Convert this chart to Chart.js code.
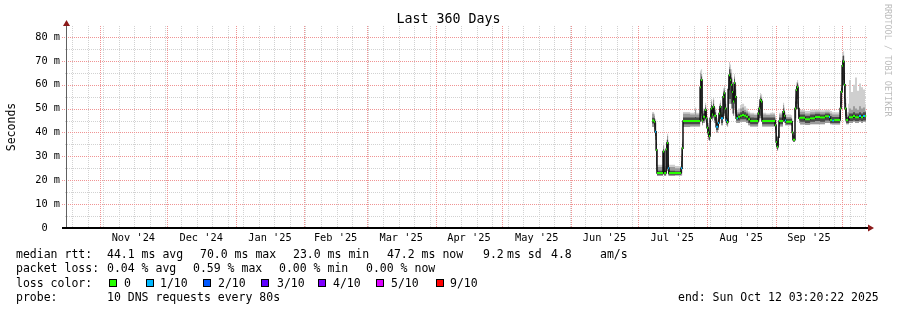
<!DOCTYPE html>
<html><head><meta charset="utf-8">
<script src="https://cdn.jsdelivr.net/npm/chart.js@4.4.1/dist/chart.umd.min.js"></script>
<style>
html,body{margin:0;padding:0;background:#fff;}
#wrap{position:relative;width:897px;height:310px;overflow:hidden;background:#fff;}
#c{position:absolute;left:0;top:0;}
.t{position:absolute;font-family:'DejaVu Sans Mono',monospace;font-size:11.5px;line-height:14px;color:#000;white-space:pre;}
.box{position:absolute;top:279px;width:6px;height:6px;border:1px solid #000;}
</style></head><body>
<div id="wrap">
<canvas id="c" width="897" height="310"></canvas>
<div class="t" style="left:0;width:897px;text-align:center;top:11px;font-size:13.3px;line-height:16px;">Last 360 Days</div>
<div class="t" style="left:882px;top:4px;writing-mode:vertical-rl;font-size:8.5px;line-height:11px;color:#bdbdbd;">RRDTOOL / TOBI OETIKER</div>

<div class="t" style="left:16px;top:247px;">median rtt:</div>
<div class="t" style="left:107px;top:247px;">44.1 ms avg</div>
<div class="t" style="left:200px;top:247px;">70.0 ms max</div>
<div class="t" style="left:293px;top:247px;">23.0 ms min</div>
<div class="t" style="left:387px;top:247px;">47.2 ms now</div>
<div class="t" style="left:483px;top:247px;">9.2</div>
<div class="t" style="left:507px;top:247px;">ms sd</div>
<div class="t" style="left:551px;top:247px;">4.8</div>
<div class="t" style="left:600px;top:247px;">am/s</div>

<div class="t" style="left:16px;top:261px;">packet loss:</div>
<div class="t" style="left:107px;top:261px;">0.04 % avg</div>
<div class="t" style="left:193px;top:261px;">0.59 % max</div>
<div class="t" style="left:279px;top:261px;">0.00 % min</div>
<div class="t" style="left:366px;top:261px;">0.00 % now</div>

<div class="t" style="left:16px;top:276px;">loss color:</div>
<div class="box" style="left:109px;background:#26ff00;"></div><div class="t" style="left:124px;top:276px;">0</div>
<div class="box" style="left:146px;background:#00b8ff;"></div><div class="t" style="left:160px;top:276px;">1/10</div>
<div class="box" style="left:203px;background:#0059ff;"></div><div class="t" style="left:218px;top:276px;">2/10</div>
<div class="box" style="left:261px;background:#5e00ff;"></div><div class="t" style="left:277px;top:276px;">3/10</div>
<div class="box" style="left:318px;background:#7e00ff;"></div><div class="t" style="left:333px;top:276px;">4/10</div>
<div class="box" style="left:376px;background:#dd00ff;"></div><div class="t" style="left:391px;top:276px;">5/10</div>
<div class="box" style="left:436px;background:#ff0000;"></div><div class="t" style="left:450px;top:276px;">9/10</div>

<div class="t" style="left:16px;top:290px;">probe:</div>
<div class="t" style="left:107px;top:290px;">10 DNS requests every 80s</div>
<div class="t" style="left:678px;top:290px;">end: Sun Oct 12 03:20:22 2025</div>
</div>
<script>
// ---- time axis (days since start of the 360-day window) ----
const windowStartUTC = Date.UTC(2024, 9, 17, 3, 20, 22);
const windowDays = 360;
const monthStarts = ['2024-11-01','2024-12-01','2025-01-01','2025-02-01','2025-03-01','2025-04-01','2025-05-01','2025-06-01','2025-07-01','2025-08-01','2025-09-01','2025-10-01'];
const monthLabels = ["Nov '24","Dec '24","Jan '25","Feb '25","Mar '25","Apr '25","May '25","Jun '25","Jul '25","Aug '25","Sep '25"];
const weekGridFirstDay = 2.3;
const yTickValues = [0,5,10,15,20,25,30,35,40,45,50,55,60,65,70,75,80];
const yMaxMs = 84.6;

// ---- measured series (ms); x = days since window start ----
const days = [263.3,264.2,264.6,265.1,265.5,268.2,268.7,269.6,270.0,270.5,270.9,273.6,276.3,276.8,277.2,280.4,282.6,283.1,284.9,285.3,285.8,286.2,287.1,287.6,288.0,288.5,288.9,289.4,289.8,290.3,290.7,291.2,292.1,293.0,293.4,293.9,294.3,295.2,295.7,296.1,296.6,297.0,297.5,297.9,298.4,298.8,299.3,299.7,300.2,300.6,301.1,301.5,302.0,302.9,303.8,304.7,305.6,306.5,307.4,309.2,311.0,311.4,311.9,312.3,312.8,314.6,316.4,318.6,319.1,319.5,320.0,320.4,321.8,322.2,322.7,323.1,323.6,325.8,326.3,326.7,327.2,327.6,328.1,328.5,329.0,329.4,329.9,332.1,334.4,336.6,338.9,341.1,342.9,343.4,344.3,345.2,347.4,347.9,348.3,348.8,349.2,349.7,350.1,350.6,351.5,351.9,352.8,353.7,354.6,355.5,356.4,357.3,358.2,359.1,359.6];
const medianMs = [45.0,44.5,40.3,32.7,23.0,32.0,23.0,33.0,35.6,25.0,23.0,23.0,25.0,33.4,44.8,44.8,44.8,44.8,59.0,62.0,45.0,46.6,49.4,46.0,42.0,40.0,38.5,46.0,50.0,47.5,50.8,47.0,42.4,44.0,48.0,50.8,46.0,55.0,56.4,50.0,45.0,44.4,58.0,64.0,62.0,60.0,57.0,53.0,60.7,55.0,46.0,46.0,46.6,47.0,47.3,47.0,46.6,45.5,44.8,44.8,48.0,50.0,53.6,53.0,44.8,44.8,44.8,43.0,36.0,34.0,38.0,44.8,44.8,48.7,47.0,45.0,44.5,44.5,40.0,37.0,37.0,50.0,57.8,59.0,50.0,46.0,46.2,45.5,46.0,46.5,46.3,46.8,46.5,45.2,45.0,45.2,45.2,50.0,57.1,68.0,69.7,60.0,50.1,45.2,45.5,46.4,46.4,46.9,46.4,46.4,46.9,46.4,46.9,46.9,46.9];
const smokeMaxMs = [48.6,47.8,45.8,39.0,26.5,35.5,26.0,37.0,39.5,31.0,26.5,26.0,31.0,37.0,48.6,48.3,50.5,48.3,66.0,66.5,49.0,50.0,52.5,49.5,46.0,44.0,42.0,50.0,54.0,51.0,54.5,50.5,46.0,47.5,52.0,53.5,49.5,58.5,59.5,54.0,48.5,48.0,63.5,69.5,68.5,66.5,62.5,58.5,64.5,60.5,51.0,49.5,50.0,51.5,52.0,51.0,50.0,48.8,48.3,48.0,51.0,53.0,56.5,56.0,48.3,48.0,48.3,47.0,41.0,38.0,43.0,48.3,48.3,52.5,50.5,48.5,47.5,47.2,45.0,40.0,41.0,56.0,61.0,62.0,54.0,49.5,49.5,49.0,49.5,49.5,49.3,49.5,49.5,49.0,48.5,48.5,48.3,56.0,60.0,73.5,74.0,67.0,55.0,48.5,52.0,62.0,57.0,60.0,63.0,57.5,60.5,59.0,58.0,52.0,52.0];
const smokeHiMs = [47.8,47.0,45.0,38.0,25.5,34.5,25.0,36.0,38.5,30.0,25.5,25.0,30.0,36.0,47.8,47.5,49.5,47.5,65.0,64.5,48.0,49.0,51.5,48.5,45.0,43.0,41.0,49.0,53.0,50.0,53.6,49.5,45.0,46.5,51.0,52.5,48.5,57.5,58.5,53.0,47.5,47.0,62.0,67.5,66.5,65.0,61.0,57.5,63.5,59.5,50.0,48.5,48.5,50.0,50.5,49.5,48.8,48.0,47.5,47.3,50.0,52.0,55.5,55.0,47.5,47.3,47.5,46.0,40.0,37.0,42.0,47.5,47.5,51.5,49.5,47.5,46.5,46.2,44.0,39.0,40.0,55.0,60.0,61.0,53.0,48.5,48.7,48.0,48.5,48.7,48.5,48.7,48.5,48.0,47.5,47.5,47.3,55.0,59.0,72.0,72.5,66.0,54.0,47.5,48.5,50.0,49.5,51.0,50.0,49.5,51.0,50.0,50.5,49.0,49.0];
const smokeLoMs = [42.3,41.5,37.0,24.0,21.8,22.5,21.8,23.0,24.0,22.0,21.8,22.0,22.0,28.0,42.3,42.5,42.5,42.5,45.0,47.0,43.0,44.0,45.0,43.0,39.0,37.0,36.5,43.0,46.0,45.0,46.0,44.0,40.0,41.0,44.0,46.0,43.0,46.0,47.0,45.0,43.0,42.5,47.0,52.0,52.0,50.0,48.0,47.0,50.0,47.0,44.0,44.0,44.0,44.5,44.5,44.5,44.0,43.0,42.5,42.5,44.0,45.0,46.0,45.0,42.5,42.5,42.5,40.0,34.0,32.5,35.0,42.5,42.5,45.0,44.0,43.0,43.0,42.8,37.0,36.0,36.0,45.0,50.0,52.0,46.0,44.0,43.3,43.1,43.5,43.5,43.5,44.0,44.0,43.5,43.3,43.3,43.3,45.0,50.0,57.0,60.0,52.0,46.0,43.5,43.5,44.0,44.0,44.5,44.0,44.0,44.5,44.0,44.5,44.5,44.5];
const coreHiMs = [46.2,46.0,44.0,36.0,24.0,33.0,24.0,34.5,37.0,27.0,24.0,23.8,28.0,35.0,46.3,46.3,46.5,46.3,62.0,63.5,47.0,48.0,50.5,47.5,44.0,42.0,40.0,48.0,51.5,49.0,52.0,48.5,44.0,45.5,50.0,51.5,47.5,56.0,57.5,52.0,46.5,46.0,60.0,66.5,65.0,63.0,60.0,56.0,62.5,58.0,48.0,47.5,47.8,48.5,49.0,48.5,48.0,47.0,46.3,46.2,49.0,51.0,54.5,54.0,46.3,46.3,46.3,45.0,39.0,36.0,41.0,46.3,46.3,50.0,48.5,46.5,45.8,45.8,43.0,38.5,39.0,53.0,59.5,60.5,52.0,47.5,47.5,47.0,47.5,47.8,47.5,48.0,47.8,46.8,46.5,46.5,46.5,53.0,58.5,70.5,72.0,64.0,52.5,46.5,47.0,48.0,48.0,48.5,48.0,48.0,48.5,48.0,48.5,48.5,48.5];
const coreLoMs = [43.8,43.0,38.5,26.0,22.3,23.0,22.3,24.0,25.0,22.5,22.3,22.3,23.0,30.0,43.5,43.5,43.5,43.5,46.0,48.0,44.0,45.0,46.0,44.0,40.0,38.0,37.0,44.0,47.0,46.0,47.0,45.0,41.0,42.5,45.0,47.0,44.0,47.0,48.0,46.0,44.0,43.5,48.0,54.0,54.0,52.0,50.0,48.0,52.0,48.0,45.0,45.0,45.0,45.5,45.5,45.5,45.0,44.0,43.5,43.5,45.0,46.0,47.0,46.0,43.5,43.5,43.5,41.0,34.5,33.0,36.0,43.5,43.5,46.0,45.0,44.0,43.5,43.3,38.0,36.2,36.2,46.0,52.0,54.0,47.0,45.0,44.5,44.0,44.5,44.8,44.5,45.0,45.0,44.0,44.0,44.0,44.0,46.0,52.0,60.0,62.0,54.0,47.0,44.0,44.0,44.8,44.8,45.0,44.8,44.8,45.0,44.8,45.0,45.0,45.0];
const lossTenths = [0,0,1,0,0,0,0,0,0,1,0,0,1,0,0,0,0,0,0,0,0,0,0,0,0,0,0,0,0,0,0,0,1,1,0,0,1,0,0,0,1,0,0,0,0,0,0,0,0,0,0,1,0,0,0,0,0,0,0,0,0,0,0,0,0,0,0,0,0,0,0,0,0,0,0,1,0,0,0,0,0,0,0,0,0,0,0,0,0,0,0,0,1,0,1,0,0,0,0,0,0,0,0,0,0,0,0,0,0,0,1,0,1,0,0];

const lossColors = {0:'#26ff00', 1:'#00b8ff'};
const FONT = "'DejaVu Sans Mono', monospace";
const majorGrid = '#f09494';
const minorGrid = '#d2d2d2';

// ---- build library inputs from arrays ----
const dayOf = s => (Date.parse(s + 'T00:00:00Z') - windowStartUTC) / 86400000;
const monthStartDays = monthStarts.map(dayOf);
const xTicks = [];
for (let d = weekGridFirstDay; d < windowDays; d += 7) xTicks.push({v:d, kind:'minor', label:''});
monthStartDays.forEach(d => xTicks.push({v:d, kind:'major', label:''}));
monthLabels.forEach((l,i) => xTicks.push({v:(monthStartDays[i]+monthStartDays[i+1])/2, kind:'label', label:l}));
xTicks.sort((a,b)=>a.v-b.v);

const P = arr => days.map((d,i)=>({x:d, y:arr[i]}));
function medianBars(level){
  const out=[];
  for(let i=0;i<days.length-1;i++){
    if(lossTenths[i]===level){
      out.push({x:days[i],y:medianMs[i]},{x:days[i+1],y:medianMs[i]},{x:days[i+1],y:null});
    }
  }
  return out;
}
const clear = 'rgba(0,0,0,0)';

// dotted RRD-style grid, positioned through the chart's own scales
const gridPlugin = {
  id:'rrdGrid',
  beforeDatasetsDraw(chart){
    const {ctx, chartArea:a, scales:{x:xs, y:ys}} = chart;
    ctx.save();
    const passes = ['minor','major'];
    for (const pass of passes){
      ctx.fillStyle = pass==='major' ? majorGrid : minorGrid;
      for (const t of xTicks){
        if (t.kind !== pass) continue;
        const px = Math.round(xs.getPixelForValue(t.v));
        for (let y=a.top; y<a.bottom; y+=2) ctx.fillRect(px, y, 1, 1);
      }
      for (const v of yTickValues){
        if (v===0) continue;
        const isMajor = v%10===0;
        if ((pass==='major') !== isMajor) continue;
        const py = Math.round(ys.getPixelForValue(v));
        for (let x=a.left-(isMajor?5:2); x<a.right; x+=2) ctx.fillRect(x, py, 1, 1);
      }
    }
    ctx.restore();
  }
};

const axisPlugin = {
  id:'rrdAxes',
  afterDraw(chart){
    const {ctx, chartArea:a} = chart;
    ctx.save();
    ctx.strokeStyle='#606060'; ctx.lineWidth=1;
    ctx.beginPath(); ctx.moveTo(a.left-0.5, a.bottom); ctx.lineTo(a.left-0.5, a.top-1); ctx.stroke();
    ctx.strokeStyle='#000'; ctx.lineWidth=2;
    ctx.beginPath(); ctx.moveTo(a.left-5, a.bottom); ctx.lineTo(a.right+1, a.bottom); ctx.stroke();
    ctx.fillStyle='#8b1a1a';
    ctx.beginPath(); ctx.moveTo(a.left-4, a.top); ctx.lineTo(a.left+3, a.top); ctx.lineTo(a.left-0.5, a.top-6); ctx.closePath(); ctx.fill();
    ctx.beginPath(); ctx.moveTo(a.right+1, a.bottom-3.5); ctx.lineTo(a.right+1, a.bottom+3.5); ctx.lineTo(a.right+7, a.bottom); ctx.closePath(); ctx.fill();
    ctx.restore();
  }
};

new Chart(document.getElementById('c'), {
  type:'line',
  data:{datasets:[
    {label:'median loss 0', data:medianBars(0), borderColor:lossColors[0], borderWidth:2, spanGaps:false, fill:false, order:0},
    {label:'median loss 1/10', data:medianBars(1), borderColor:lossColors[1], borderWidth:2, spanGaps:false, fill:false, order:0},
    {label:'median', data:P(medianMs), borderColor:'#111', borderWidth:1.5, stepped:true, fill:false, order:1},
    {label:'core hi', data:P(coreHiMs), borderColor:clear, borderWidth:0, stepped:true, fill:{target:4}, backgroundColor:'#4a4a4a', order:2},
    {label:'core lo', data:P(coreLoMs), borderColor:clear, borderWidth:0, stepped:true, fill:false, order:2},
    {label:'smoke hi', data:P(smokeHiMs), borderColor:clear, borderWidth:0, stepped:true, fill:{target:6}, backgroundColor:'#9b9b9b', order:3},
    {label:'smoke lo', data:P(smokeLoMs), borderColor:clear, borderWidth:0, stepped:true, fill:false, order:3},
    {label:'smoke max', data:P(smokeMaxMs), borderColor:clear, borderWidth:0, stepped:true, fill:{target:6}, backgroundColor:'#cfcfcf', order:4}
  ]},
  options:{
    responsive:false, animation:false, devicePixelRatio:1, events:[],
    layout:{padding:{top:26,right:30,bottom:0,left:0}},
    plugins:{legend:{display:false}, tooltip:{enabled:false}, title:{display:false}},
    elements:{point:{radius:0}, line:{tension:0}},
    scales:{
      x:{
        type:'linear', min:0, max:windowDays,
        afterBuildTicks(scale){ scale.ticks = xTicks.map(t=>({value:t.v})); },
        ticks:{autoSkip:false, maxRotation:0, minRotation:0, padding:4, color:'#000',
          font:{family:FONT, size:10.3},
          callback:(v,i)=> xTicks[i] ? xTicks[i].label : ''},
        grid:{drawTicks:false, color:clear},
        border:{display:false},
        afterFit(scale){ scale.height = 82; }
      },
      y:{
        type:'linear', min:0, max:yMaxMs,
        afterBuildTicks(scale){ scale.ticks = yTickValues.map(v=>({value:v})); },
        ticks:{autoSkip:false, padding:7, color:'#000', font:{family:FONT, size:10.3},
          callback: v => v===0 ? '0  ' : (v%10===0 ? v+' m' : '')},
        grid:{drawTicks:false, color:clear},
        border:{display:false},
        title:{display:true, text:'Seconds', color:'#000', font:{family:FONT, size:11.5}, padding:{top:5,bottom:0}},
        afterFit(scale){ scale.width = 67; }
      }
    }
  },
  plugins:[gridPlugin, axisPlugin]
});
</script>
</body></html>
